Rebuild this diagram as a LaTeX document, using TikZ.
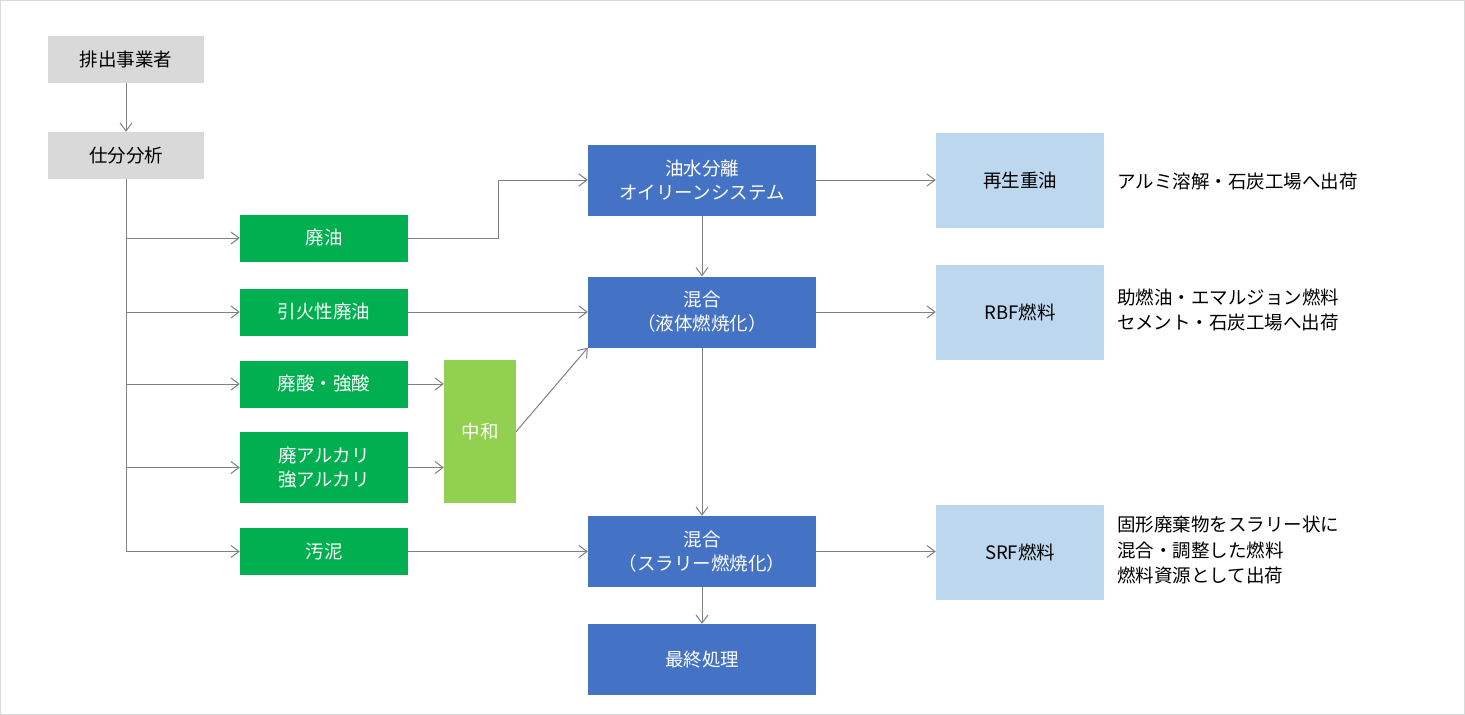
\documentclass[tikz,border=0pt]{standalone}
\usepackage{fontspec}
\setmainfont{Noto Sans CJK JP}
\usetikzlibrary{arrows.meta}
\definecolor{lgray}{HTML}{D9D9D9}
\definecolor{dgreen}{HTML}{00B050}
\definecolor{lgreen}{HTML}{92D050}
\definecolor{mblue}{HTML}{4472C4}
\definecolor{lblue}{HTML}{BDD7EE}
\definecolor{lineg}{HTML}{808080}
\tikzset{
  box/.style={inner sep=0pt, align=center, font=\fontsize{18.5}{24}\selectfont},
  graybox/.style={box, fill=lgray, text=black, minimum width=156pt, minimum height=47pt},
  greenbox/.style={box, fill=dgreen, text=white, minimum width=168pt, minimum height=47pt},
  neutral/.style={box, fill=lgreen, text=white, minimum width=72pt, minimum height=143pt},
  bluebox/.style={box, fill=mblue, text=white, minimum width=228pt, minimum height=71pt},
  outbox/.style={box, fill=lblue, text=black, minimum width=168pt, minimum height=95pt},
  note/.style={inner sep=0pt, align=left, anchor=west, font=\fontsize{18.5}{25.5}\selectfont},
  arr/.style={draw=lineg, line width=1pt, -{Straight Barb[length=8pt,width=12pt,line width=1pt]}},
  ln/.style={draw=lineg, line width=1pt}
}
\begin{document}
\begin{tikzpicture}[x=1pt,y=-1pt]
\useasboundingbox (0,0) rectangle (1465,715);
\draw[lgray, line width=1pt] (0.5,0.5) rectangle (1464.5,714.5);

\node[graybox] (hai) at (126,59.5) {排出事業者};
\node[graybox] (shiwake) at (126,155.5) {仕分分析};

\node[greenbox] (haiyu) at (324,238) {廃油};
\node[greenbox] (inka) at (324,312) {引火性廃油};
\node[greenbox] (haisan) at (324,384) {廃酸・強酸};
\node[greenbox, minimum height=71pt] (alkali) at (324,467.5) {廃アルカリ\\強アルカリ};
\node[greenbox] (osei) at (324,551.5) {汚泥};

\node[neutral] (chuwa) at (480,431.5) {中和};

\node[bluebox] (yusui) at (702,180) {油水分離\\オイリーンシステム};
\node[bluebox] (konA) at (702,312) {混合\\（液体燃焼化）};
\node[bluebox] (konB) at (702,551.5) {混合\\（スラリー燃焼化）};
\node[bluebox] (saishu) at (702,659.5) {最終処理};

\node[outbox] (saisei) at (1020,180) {再生重油};
\node[outbox] (rbf) at (1020,312) {RBF燃料};
\node[outbox] (srf) at (1020,552) {SRF燃料};

\node[note] (t1) at (1117,181) {アルミ溶解・石炭工場へ出荷};
\node[note] (t2) at (1117,310) {助燃油・エマルジョン燃料\\セメント・石炭工場へ出荷};
\node[note] (t3) at (1117,550) {固形廃棄物をスラリー状に\\混合・調整した燃料\\燃料資源として出荷};

\coordinate (c1) at (498,238);

\draw[arr] (hai) -- (shiwake);
\draw[arr] (shiwake.south) |- (haiyu.west);
\draw[arr] (shiwake.south) |- (inka.west);
\draw[arr] (shiwake.south) |- (haisan.west);
\draw[arr] (shiwake.south) |- (alkali.west);
\draw[arr] (shiwake.south) |- (osei.west);

\draw[arr] (haiyu.east) -- (c1) |- (yusui.west);
\draw[arr] (inka.east) -- (konA.west);
\draw[arr] (haisan.east) -- (chuwa.west |- haisan.east);
\draw[arr] (alkali.east) -- (chuwa.west |- alkali.east);
\draw[arr] (chuwa.east) -- (konA.south west);
\draw[arr] (osei.east) -- (konB.west);

\draw[arr] (yusui) -- (konA);
\draw[arr] (konA) -- (konB);
\draw[arr] (konB) -- (saishu);

\draw[arr] (yusui) -- (saisei);
\draw[arr] (konA) -- (rbf);
\draw[arr] (konB.east) -- (srf.west |- konB.east);
\end{tikzpicture}
\end{document}
